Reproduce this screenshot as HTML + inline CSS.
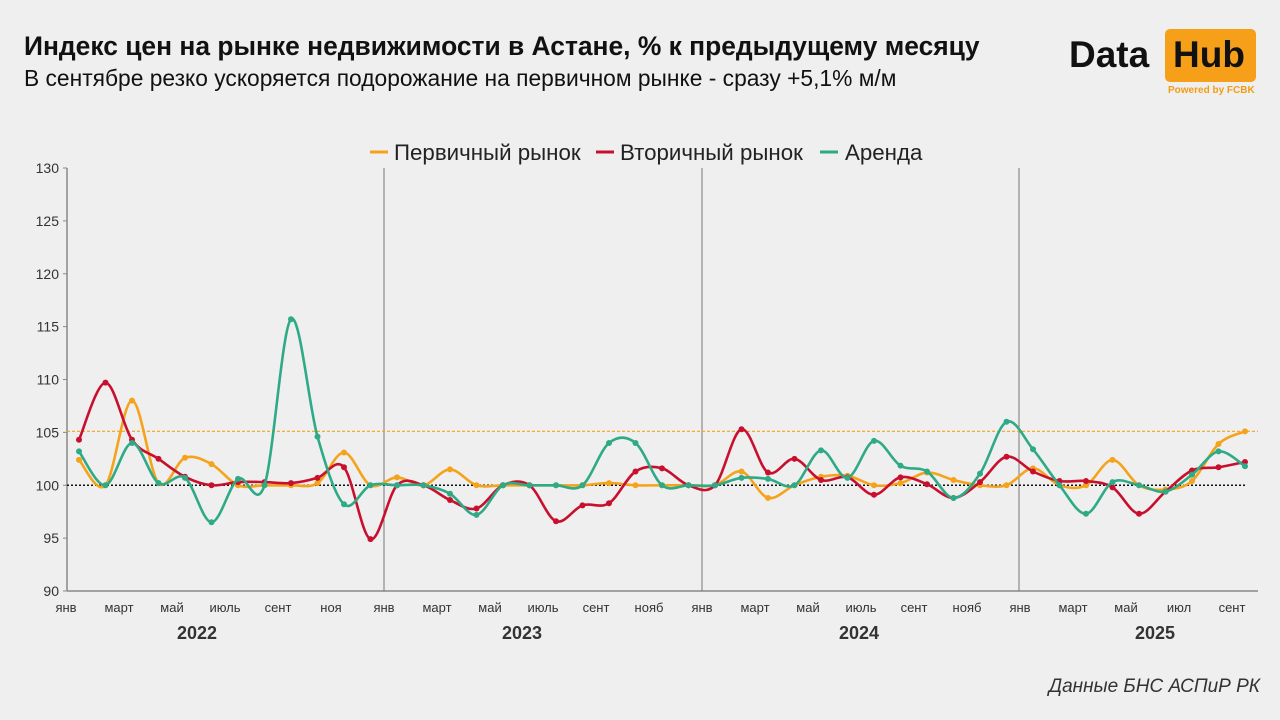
<!DOCTYPE html>
<html><head><meta charset="utf-8"><style>
html,body{margin:0;padding:0;background:#efefef;}
body{width:1280px;height:720px;position:relative;overflow:hidden;font-family:"Liberation Sans",sans-serif;}
.t{position:absolute;white-space:nowrap;}
</style></head><body>
<div class="t" style="left:24px;top:31px;font-size:26.4px;font-weight:bold;color:#111;">Индекс цен на рынке недвижимости в Астане, % к предыдущему месяцу</div>
<div class="t" style="left:24px;top:65px;font-size:22.8px;color:#111;">В сентябре резко ускоряется подорожание на первичном рынке - сразу +5,1% м/м</div>
<div class="t" style="left:1069px;top:34px;font-size:37px;font-weight:bold;color:#111;">Data</div>
<div style="position:absolute;left:1165px;top:29px;width:91px;height:53px;background:#f6a01a;border-radius:5px;"></div>
<div class="t" style="left:1173px;top:34px;font-size:37px;font-weight:bold;color:#111;">Hub</div>
<div class="t" style="left:1168px;top:85px;font-size:10px;font-weight:bold;color:#f39c12;">Powered by FCBK</div>
<div class="t" style="right:20px;top:676px;font-size:19px;font-style:italic;color:#333;">Данные БНС АСПиР РК</div>
<svg id="c" width="1280" height="720" style="position:absolute;left:0;top:0"></svg>
<script>
const X=i=>79+i*26.5, Y=v=>591-(v-90)*10.575;
const O=[102.4,100,108,100.2,102.6,102,100,100,100,100.2,103.1,100,100.75,100,101.5,100,100,100,100,100,100.2,100,100,100,100,101.3,98.8,100,100.8,100.9,100,100.2,101.2,100.5,100,100,101.6,100,100,102.4,100,99.6,100.4,103.9,105.1];
const R=[104.3,109.7,104.3,102.5,100.8,100,100.3,100.3,100.2,100.7,101.7,94.9,100,100,98.6,97.8,100,100,96.6,98.1,98.3,101.3,101.6,100,100,105.3,101.2,102.5,100.5,100.75,99.1,100.75,100.1,98.8,100.3,102.7,101.3,100.4,100.4,99.8,97.3,99.4,101.4,101.7,102.2];
const G=[103.2,100,104,100.2,100.7,96.5,100.6,100,115.7,104.6,98.2,100,100,100,99.2,97.2,100,100,100,100,104,104,100,100,100,100.7,100.6,100,103.3,100.7,104.2,101.85,101.3,98.8,101.1,106,103.4,100,97.3,100.3,100,99.4,101,103.2,101.8];
let s='';
s+=`<line x1="67" y1="168" x2="67" y2="591" stroke="#888" stroke-width="1.5"/><line x1="67" y1="591" x2="1258" y2="591" stroke="#888" stroke-width="1.5"/>`;
for(let v=90;v<=130;v+=5){const y=Y(v);s+=`<line x1="63" y1="${y}" x2="67" y2="${y}" stroke="#888"/><text x="59" y="${y+5}" text-anchor="end" font-size="14" fill="#333" font-family="Liberation Sans">${v}</text>`;}
[384,702,1019].forEach(x=>s+=`<line x1="${x}" y1="168" x2="${x}" y2="591" stroke="#777" stroke-width="1"/>`);
s+=`<line x1="67" y1="${Y(105.1)}" x2="1258" y2="${Y(105.1)}" stroke="#f5a31a" stroke-width="1.2" stroke-dasharray="3,2"/>`;
s+=`<line x1="67" y1="${Y(100)}" x2="1245" y2="${Y(100)}" stroke="#111" stroke-width="1.6" stroke-dasharray="2,2"/>`;
const ml=['янв','март','май','июль','сент','ноя','янв','март','май','июль','сент','нояб','янв','март','май','июль','сент','нояб','янв','март','май','июл','сент'];
ml.forEach((m,k)=>{s+=`<text x="${X(2*k)-13}" y="612" text-anchor="middle" font-size="13" fill="#333" font-family="Liberation Sans">${m}</text>`;});
[['2022',197],['2023',522],['2024',859],['2025',1155]].forEach(a=>s+=`<text x="${a[1]}" y="639" text-anchor="middle" font-size="18" font-weight="bold" fill="#333" font-family="Liberation Sans">${a[0]}</text>`);
function path(d){let p=d.map((v,i)=>[X(i),Y(v)]);let str=`M${p[0][0]},${p[0][1]}`;
for(let i=0;i<p.length-1;i++){const p0=p[i-1]||p[i],p1=p[i],p2=p[i+1],p3=p[i+2]||p2;
const c1=[p1[0]+(p2[0]-p0[0])/6,p1[1]+(p2[1]-p0[1])/6],c2=[p2[0]-(p3[0]-p1[0])/6,p2[1]-(p3[1]-p1[1])/6];
str+=`C${c1[0].toFixed(1)},${c1[1].toFixed(1)} ${c2[0].toFixed(1)},${c2[1].toFixed(1)} ${p2[0].toFixed(1)},${p2[1].toFixed(1)}`;}return str;}
[[O,'#f5a31a'],[R,'#c8102e'],[G,'#2eaa86']].forEach(([d,c])=>{s+=`<path d="${path(d)}" fill="none" stroke="${c}" stroke-width="2.6"/>`;d.forEach((v,i)=>s+=`<circle cx="${X(i)}" cy="${Y(v)}" r="3" fill="${c}"/>`);});
[[370,'#f5a31a','Первичный рынок',394],[596,'#c8102e','Вторичный рынок',620],[820,'#2eaa86','Аренда',845]].forEach(a=>{s+=`<line x1="${a[0]}" y1="152" x2="${a[0]+18}" y2="152" stroke="${a[1]}" stroke-width="3"/><text x="${a[3]}" y="160" font-size="22.3" fill="#222" font-family="Liberation Sans">${a[2]}</text>`;});
document.getElementById('c').innerHTML=s;
</script>
</body></html>
